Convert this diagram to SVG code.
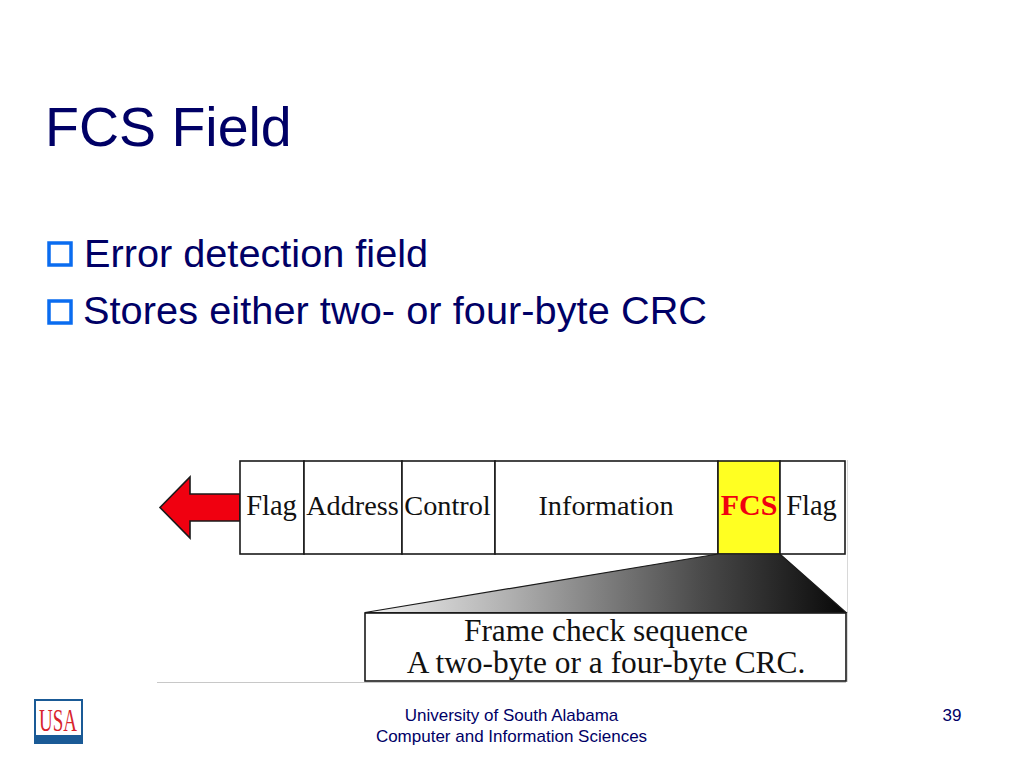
<svg xmlns="http://www.w3.org/2000/svg" width="1024" height="768" viewBox="0 0 1024 768">
<style>
.sans{font-family:"Liberation Sans",Arial,sans-serif}
.serif{font-family:"Liberation Serif","Times New Roman",serif;fill:#111}
.title{font-size:55.500px;fill:#000066}
.bul{font-size:39.700px;fill:#000066}
.bx{fill:none;stroke:#0a6cf0;stroke-width:3.500}
.foot{font-size:17px;fill:#000066;text-anchor:middle}
.cell{fill:#fff;stroke:#1a1a1a;stroke-width:1.600}
.lab{font-size:28.300px;text-anchor:middle}
.flag{font-size:28.500px}
.cap{font-size:31.400px;text-anchor:middle}
</style>
<defs>
<linearGradient id="g" gradientUnits="userSpaceOnUse" x1="365" y1="0" x2="846" y2="0">
<stop offset="0" stop-color="#f2f2f2"/><stop offset="0.3" stop-color="#b0b0b0"/><stop offset="0.7" stop-color="#4a4a4a"/><stop offset="1" stop-color="#080808"/>
</linearGradient>
</defs>
<rect width="1024" height="768" fill="#fff"/>
<text class="sans title" x="45" y="145.500">FCS Field</text>
<rect class="bx" x="49" y="243" width="22" height="22"/>
<text class="sans bul" x="84" y="266.500">Error detection field</text>
<rect class="bx" x="49" y="301" width="22" height="22"/>
<text class="sans bul" x="83" y="324" style="letter-spacing:0.060px">Stores either two- or four-byte CRC</text>
<g id="diagram">
<path d="M157 682.500H846" stroke="#c8c8c8" stroke-width="1.200" fill="none"/>
<path d="M847.500 460V682" stroke="#d8d8d8" stroke-width="1" fill="none"/>
<g id="arrow"><path d="M240 494H190V477L160 507.500L190 538V521H240Z" fill="#f00010" stroke="#1a1a1a" stroke-width="1.600"/></g>
<g id="flag1"><rect class="cell" x="240" y="461" width="64" height="93"/><text class="serif lab flag" x="271.500" y="514.500">Flag</text></g>
<g id="address"><rect class="cell" x="304" y="461" width="98" height="93"/><text class="serif lab" x="352.500" y="514.500">Address</text></g>
<g id="control"><rect class="cell" x="402" y="461" width="93" height="93"/><text class="serif lab" x="447.500" y="514.500">Control</text></g>
<g id="information"><rect class="cell" x="495" y="461" width="223" height="93"/><text class="serif lab" x="606" y="514.500">Information</text></g>
<g id="fcs"><rect x="718" y="461" width="62" height="93" fill="#ffff22" stroke="#1a1a1a" stroke-width="1.600"/><text class="serif lab" x="749" y="514.500" font-weight="bold" style="fill:#f00010;font-size:30px">FCS</text></g>
<g id="flag2"><rect class="cell" x="780" y="461" width="65" height="93"/><text class="serif lab flag" x="811.500" y="514.500">Flag</text></g>
<g id="wedge"><path d="M365 612.500L718 554H780L846 612.500Z" fill="url(#g)" stroke="#1a1a1a" stroke-width="1.200"/></g>
<g id="caption"><rect class="cell" x="365" y="613" width="481" height="68"/>
<text class="serif cap" x="606" y="641">Frame check sequence</text>
<text class="serif cap" x="606" y="673">A two-byte or a four-byte CRC.</text></g>
</g>
<g id="logo">
<rect x="35" y="700" width="47" height="43" fill="#fff" stroke="#1a5a96" stroke-width="2"/>
<rect x="35" y="735" width="47" height="8" fill="#1a5a96"/>
<text x="58" y="731" font-family="Liberation Serif,serif" font-size="31" fill="#d8242c" text-anchor="middle" textLength="38" lengthAdjust="spacingAndGlyphs">USA</text>
</g>
<text class="sans foot" x="511.500" y="721">University of South Alabama</text>
<text class="sans foot" x="511.500" y="742">Computer and Information Sciences</text>
<text class="sans foot" x="952" y="721">39</text>
</svg>
